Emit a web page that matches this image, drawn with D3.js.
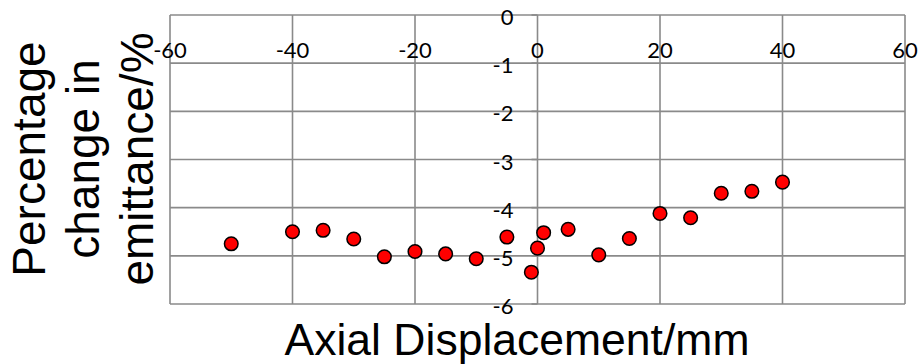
<!DOCTYPE html>
<html>
<head>
<meta charset="utf-8">
<script src="https://cdn.jsdelivr.net/npm/d3@7"></script>
<style>
  body { margin: 0; background: #fff; }
  text { fill: #000; }
</style>
</head>
<body>
<script>
// data
var displacement = [-50, -40, -35, -30, -25, -20, -15, -10, -5, -1, 0, 1, 5, 10, 15, 20, 25, 30, 35, 40]
var emittance = [-4.75, -4.5, -4.47, -4.65, -5.02, -4.91, -4.96, -5.06, -4.61, -5.34, -4.84, -4.52,
                 -4.45, -4.98, -4.64, -4.12, -4.21, -3.7, -3.66, -3.47]
var xTicks = [-60, -40, -20, 0, 20, 40, 60]
var yTicks = [0, -1, -2, -3, -4, -5, -6]
var yTitleLines = ['Percentage', 'change in', 'emittance/%']

var svg = d3.select('body').append('svg')
  .attr('width', 918)
  .attr('height', 364)

svg.append('rect')
  .attr('width', 918)
  .attr('height', 364)
  .attr('fill', '#fff')

var x = d3.scaleLinear().domain([-60, 60]).range([170, 905])
var y = d3.scaleLinear().domain([-6, 0]).range([304, 15])

var grid = '#8a8a8a'

// vertical grid lines
svg.selectAll('.vgrid').data(xTicks).enter().append('line')
  .attr('x1', function(d){ return x(d) })
  .attr('x2', function(d){ return x(d) })
  .attr('y1', y(0))
  .attr('y2', y(-6))
  .attr('stroke', grid)
  .attr('stroke-width', 1.6)

// horizontal grid lines
svg.selectAll('.hgrid').data(yTicks).enter().append('line')
  .attr('x1', x(-60))
  .attr('x2', x(60))
  .attr('y1', function(d){ return y(d) })
  .attr('y2', function(d){ return y(d) })
  .attr('stroke', grid)
  .attr('stroke-width', 1.6)

// y axis ticks at x = 0
svg.selectAll('.ytick').data(yTicks).enter().append('line')
  .attr('x1', x(0) - 6)
  .attr('x2', x(0))
  .attr('y1', function(d){ return y(d) })
  .attr('y2', function(d){ return y(d) })
  .attr('stroke', grid)
  .attr('stroke-width', 1.6)

// x tick labels sit under the zero line
svg.selectAll('.xlab').data(xTicks).enter().append('text')
  .attr('x', function(d){ return x(d) })
  .attr('y', 58)
  .attr('text-anchor', 'middle')
  .attr('font-family', 'Lato, sans-serif')
  .attr('font-size', 22)
  .text(function(d){ return d })

// y tick labels left of the zero axis
svg.selectAll('.ylab').data(yTicks).enter().append('text')
  .attr('x', x(0) - 24)
  .attr('y', function(d){ return y(d) + 1.5 })
  .attr('text-anchor', 'end')
  .attr('dominant-baseline', 'central')
  .attr('font-family', 'Lato, sans-serif')
  .attr('font-size', 22)
  .text(function(d){ return d })

// points
svg.selectAll('circle').data(displacement).enter().append('circle')
  .attr('cx', function(d){ return x(d) })
  .attr('cy', function(d, i){ return y(emittance[i]) })
  .attr('r', 6.8)
  .attr('fill', '#ff0000')
  .attr('stroke', '#000')
  .attr('stroke-width', 1.5)

// axis titles
svg.append('text')
  .attr('x', 517)
  .attr('y', 355)
  .attr('text-anchor', 'middle')
  .attr('font-family', '"Liberation Sans", Arial, sans-serif')
  .attr('font-size', 44.5)
  .text('Axial Displacement/mm')

var yTitle = svg.append('text')
  .attr('transform', 'translate(0,159) rotate(-90)')
  .attr('text-anchor', 'middle')
  .attr('font-family', '"Liberation Sans", Arial, sans-serif')
  .attr('font-size', 46)

yTitle.selectAll('tspan').data(yTitleLines).enter().append('tspan')
  .attr('x', 0)
  .attr('y', function(d, i){ return 45 + i * 54 })
  .text(function(d){ return d })
</script>
</body>
</html>
